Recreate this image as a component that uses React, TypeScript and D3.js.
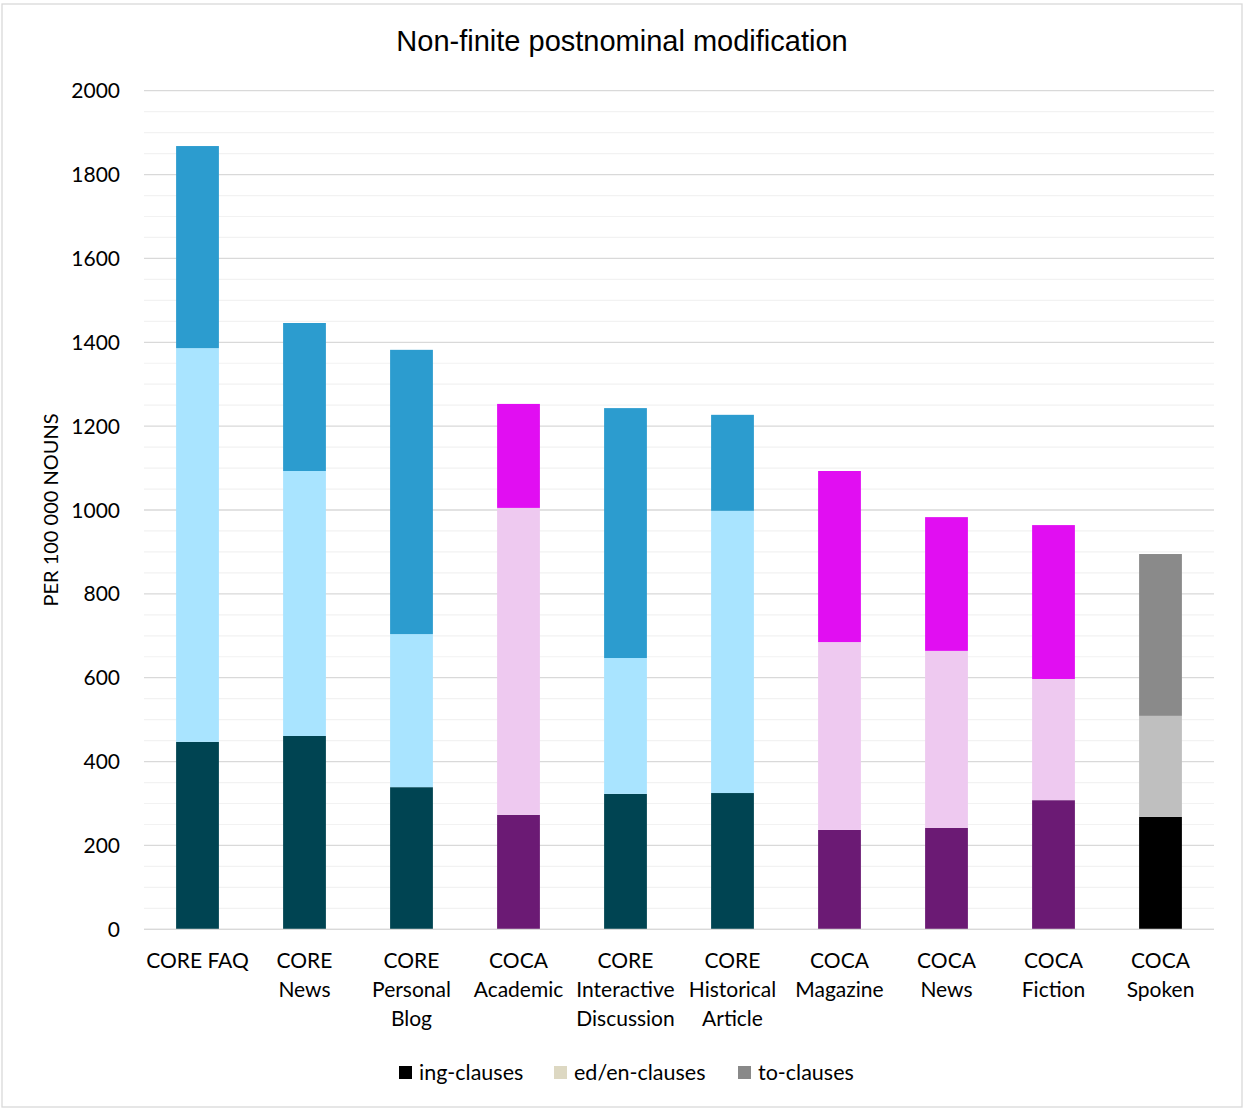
import React from "react";
import * as d3 from "d3";

// Corpus registers, with the line breaks used under the axis
const categories = [
  "CORE FAQ",
  "CORE\nNews",
  "CORE\nPersonal\nBlog",
  "COCA\nAcademic",
  "CORE\nInteractive\nDiscussion",
  "CORE\nHistorical\nArticle",
  "COCA\nMagazine",
  "COCA\nNews",
  "COCA\nFiction",
  "COCA\nSpoken",
];

// Colour family for each register
const groups = ["core", "core", "core", "coca", "core", "core", "coca", "coca", "coca", "spoken"];

// Frequencies per 100 000 nouns
const ingClauses = [447, 461, 339, 273, 323, 325, 237, 242, 308, 268];
const edEnClauses = [939, 632, 365, 732, 324, 673, 448, 422, 289, 241];
const toClauses = [482, 353, 678, 248, 596, 229, 408, 319, 367, 386];

const seriesNames = ["ing-clauses", "ed/en-clauses", "to-clauses"];
const yTicks = [0, 200, 400, 600, 800, 1000, 1200, 1400, 1600, 1800, 2000];

const palette: Record<string, string[]> = {
  core: ["#004452", "#A9E4FF", "#2C9CCF"],
  coca: ["#6B1A74", "#EEC9F0", "#E10EF2"],
  spoken: ["#000000", "#BFBFBF", "#8A8A8A"],
};
const legendColors = ["#000000", "#DDD8C2", "#898989"];

const W = 1243;
const H = 1109;
const margin = { left: 144, right: 29, top: 90.7, bottom: 179.7 };
const FONT = "Lato, 'Open Sans', sans-serif";

export default function App() {
  const x = d3
    .scaleBand<string>()
    .domain(categories)
    .range([margin.left, W - margin.right])
    .paddingInner(0.6)
    .paddingOuter(0.3);
  const y = d3
    .scaleLinear()
    .domain([0, 2000])
    .range([H - margin.bottom, margin.top]);

  const rows = categories.map((c, i) => ({
    cat: c,
    group: groups[i],
    ing: ingClauses[i],
    ed: edEnClauses[i],
    to: toClauses[i],
  }));
  const stacked = d3.stack<any>().keys(["ing", "ed", "to"])(rows);
  const minorTicks = d3.range(0, 2001, 50).filter((v) => v % 200 !== 0);

  const legendX = [399, 554, 738];

  return (
    <svg
      width={W}
      height={H}
      style={{ position: "absolute", left: 0, top: 0, background: "#fff" }}
    >
      <rect x={2} y={4} width={1240} height={1103} fill="#fff" stroke="#D9D9D9" strokeWidth={1.3} />
      <text
        x={622}
        y={51}
        textAnchor="middle"
        fontFamily="'Liberation Sans', Arial, sans-serif"
        fontSize={29}
        fill="#000"
      >
        Non-finite postnominal modification
      </text>

      {/* gridlines */}
      {minorTicks.map((v) => (
        <line key={"m" + v} x1={margin.left} x2={W - margin.right} y1={y(v)} y2={y(v)} stroke="#F2F2F2" strokeWidth={1.2} />
      ))}
      {yTicks.map((v) => (
        <line key={"g" + v} x1={margin.left} x2={W - margin.right} y1={y(v)} y2={y(v)} stroke="#D9D9D9" strokeWidth={1.3} />
      ))}

      {/* stacked bars */}
      {stacked.map((layer, li) =>
        layer.map((d, i) => (
          <rect
            key={layer.key + i}
            x={x(categories[i])}
            width={x.bandwidth()}
            y={y(d[1])}
            height={y(d[0]) - y(d[1])}
            fill={palette[groups[i]][li]}
          />
        ))
      )}
      <line x1={margin.left} x2={W - margin.right} y1={y(0)} y2={y(0)} stroke="#D9D9D9" strokeWidth={1.3} />

      {/* y tick labels */}
      {yTicks.map((v) => (
        <text key={"t" + v} x={120} y={y(v) + 7.5} textAnchor="end" fontFamily={FONT} fontSize={21} fill="#000">
          {v}
        </text>
      ))}
      <text
        transform={`translate(58,${y(1000)}) rotate(-90)`}
        textAnchor="middle"
        fontFamily={FONT}
        fontSize={20}
        fill="#000"
      >
        PER 100 000 NOUNS
      </text>

      {/* category labels */}
      {categories.map((c) => (
        <text key={"c" + c} textAnchor="middle" fontFamily={FONT} fontSize={21} fill="#000">
          {c.split("\n").map((line, k) => (
            <tspan key={k} x={(x(c) as number) + x.bandwidth() / 2} y={968 + k * 29}>
              {line}
            </tspan>
          ))}
        </text>
      ))}

      {/* legend */}
      {seriesNames.map((s, i) => (
        <g key={s}>
          <rect x={legendX[i]} y={1066} width={13} height={13} fill={legendColors[i]} />
          <text x={legendX[i] + 20} y={1080} fontFamily={FONT} fontSize={21.5} fill="#000">
            {s}
          </text>
        </g>
      ))}
    </svg>
  );
}
